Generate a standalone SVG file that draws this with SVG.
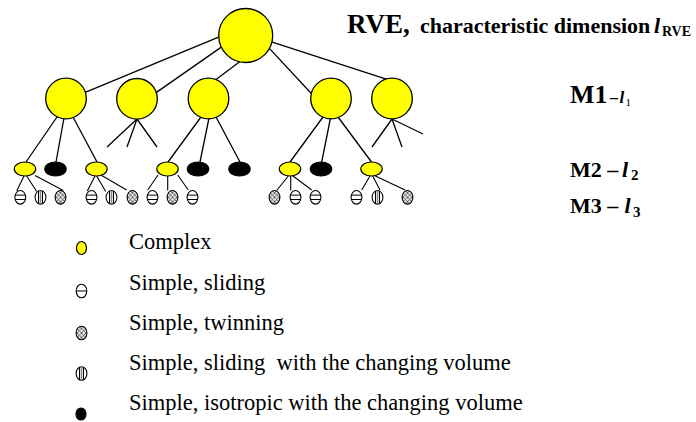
<svg xmlns="http://www.w3.org/2000/svg" width="696" height="422" viewBox="0 0 696 422">
<style>
.ln{stroke:#000;stroke-width:1.3;fill:none}
.sl{stroke:#000;stroke-width:1.1;fill:none}
.big{fill:#ffff00;stroke:#000;stroke-width:1.3}
.cx{fill:#ffff00;stroke:#000;stroke-width:1.2}
.bk{fill:#000;stroke:#000;stroke-width:1.2}
.sm{fill:#fff;stroke:#000;stroke-width:1.1}
.t{font-family:"Liberation Serif","Times New Roman",serif;fill:#000}
.b{font-weight:bold}
.i{font-style:italic}
</style>
<defs>
<pattern id="hatch" patternUnits="userSpaceOnUse" width="4.5" height="4.5">
<rect width="4.5" height="4.5" fill="#e4e4e4"/>
<path d="M0,0L4.5,4.5M4.5,0L0,4.5" stroke="#333" stroke-width="0.7"/>
</pattern>
<g id="s-sl"><ellipse class="sm" rx="5.4" ry="6.8"/><path d="M-5.2,-2.2H5.2M-5.2,2.2H5.2" stroke="#000" stroke-width="1"/></g>
<g id="s-vs"><ellipse class="sm" rx="5.4" ry="6.8"/><path d="M-2,-6.3V6.3M2,-6.3V6.3" stroke="#000" stroke-width="1"/><path d="M0,-6.7V6.7" stroke="#888" stroke-width="1.6"/></g>
<g id="s-tw"><ellipse rx="5.4" ry="6.8" fill="url(#hatch)" stroke="#000" stroke-width="1.1"/></g>
</defs>

<g id="connectors">
<path class="ln" d="M221,36.2L84,92.8M222,46.6L155,93.4M240,61.5L215,80.3M268,46.9L312,94.2M270,41.4L387,79.3"/>
<path class="ln" d="M57,117L26,162M64,118L56,162M73,117L97,162"/>
<path class="ln" d="M137,119L107,147M137,119L127,147M137,119L157,147"/>
<path class="ln" d="M201,117L168,162M209,118L200,162M216,117L240,162"/>
<path class="ln" d="M323,117L290,162M330.5,118L321.7,162M338,117L371.5,162"/>
<path class="ln" d="M392,119L372,147M392,119L402,147M392,119L423,134"/>
<path class="sl" d="M24,176L16.7,191M26.7,176L36.7,191.5M35,175.5L63.3,190.5"/>
<path class="sl" d="M95,176L87.3,191M96.7,176L105.7,191.5M101.7,175.5L126.7,190"/>
<path class="sl" d="M158,175L147.7,190M167.7,176V190.5M177.7,175L188.3,190"/>
<path class="sl" d="M288.3,176L276.7,190.5M290.7,176V190.5M291.7,175L311.7,190"/>
<path class="sl" d="M370,176L361.7,190M372.7,176L380,190M373.3,175L405,190"/>
</g>

<g id="root"><circle class="big" cx="245.7" cy="35.5" r="27"/></g>
<g id="m1-1"><circle class="big" cx="66" cy="98.5" r="20.3"/></g>
<g id="m1-2"><circle class="big" cx="137" cy="98.8" r="20.3"/></g>
<g id="m1-3"><circle class="big" cx="208.5" cy="98.5" r="20.3"/></g>
<g id="m1-4"><circle class="big" cx="331" cy="98.5" r="20.3"/></g>
<g id="m1-5"><circle class="big" cx="392" cy="98.5" r="20.3"/></g>

<g id="m2-1"><ellipse class="cx" cx="25" cy="169" rx="10.7" ry="7"/></g>
<g id="m2-2"><ellipse class="bk" cx="55.5" cy="169" rx="10.7" ry="7"/></g>
<g id="m2-3"><ellipse class="cx" cx="96.5" cy="169" rx="10.7" ry="7"/></g>
<g id="m2-4"><ellipse class="cx" cx="167.5" cy="169" rx="10.7" ry="7"/></g>
<g id="m2-5"><ellipse class="bk" cx="198" cy="169" rx="10.7" ry="7"/></g>
<g id="m2-6"><ellipse class="bk" cx="239.5" cy="169" rx="10.7" ry="7"/></g>
<g id="m2-7"><ellipse class="cx" cx="290" cy="169" rx="10.7" ry="7"/></g>
<g id="m2-8"><ellipse class="bk" cx="321" cy="169" rx="10.7" ry="7"/></g>
<g id="m2-9"><ellipse class="cx" cx="371.5" cy="169" rx="10.7" ry="7"/></g>

<g id="m3-1"><use href="#s-sl" x="20.3" y="197.3"/></g>
<g id="m3-2"><use href="#s-vs" x="40.5" y="197.3"/></g>
<g id="m3-3"><use href="#s-tw" x="60.5" y="197.3"/></g>
<g id="m3-4"><use href="#s-sl" x="91.5" y="197.3"/></g>
<g id="m3-5"><use href="#s-vs" x="111.5" y="197.3"/></g>
<g id="m3-6"><use href="#s-tw" x="132.5" y="197.3"/></g>
<g id="m3-7"><use href="#s-sl" x="152.5" y="197.3"/></g>
<g id="m3-8"><use href="#s-tw" x="172.5" y="197.3"/></g>
<g id="m3-9"><use href="#s-sl" x="192.5" y="197.3"/></g>
<g id="m3-10"><use href="#s-tw" x="274.5" y="197.3"/></g>
<g id="m3-11"><use href="#s-sl" x="295.5" y="197.3"/></g>
<g id="m3-12"><use href="#s-sl" x="315.5" y="197.3"/></g>
<g id="m3-13"><use href="#s-sl" x="356.5" y="197.3"/></g>
<g id="m3-14"><use href="#s-vs" x="377.5" y="197.3"/></g>
<g id="m3-15"><use href="#s-tw" x="407.5" y="197.3"/></g>

<g id="title">
<text class="t b" x="347" y="33" font-size="27">RVE,</text>
<text class="t b" x="420" y="33" font-size="22">characteristic dimension</text>
<text class="t b i" x="654" y="33" font-size="22">l</text>
<text class="t b" x="662" y="35.5" font-size="14">RVE</text>
</g>
<g id="levels">
<text class="t b" x="570" y="103.3" font-size="26">M1</text>
<text class="t b" x="610" y="103.3" font-size="16">–</text>
<text class="t b i" x="619.5" y="103.3" font-size="17">l</text>
<text class="t" x="625.5" y="106" font-size="11">1</text>
<text class="t b" x="570" y="176.7" font-size="22">M2 –</text>
<text class="t b i" x="622" y="176.7" font-size="22">l</text>
<text class="t b" x="631" y="180" font-size="15">2</text>
<text class="t b" x="570" y="213.3" font-size="22">M3 –</text>
<text class="t b i" x="624.5" y="213.3" font-size="22">l</text>
<text class="t b" x="633" y="216.5" font-size="15">3</text>
</g>

<g id="legend">
<g id="lg-complex"><ellipse class="cx" cx="81.5" cy="248" rx="5" ry="6.5"/><text class="t" x="129" y="249.3" font-size="22.5">Complex</text></g>
<g id="lg-sliding"><ellipse class="sm" cx="81.5" cy="291" rx="5.3" ry="6.8"/><path d="M76.3,291H86.7" stroke="#000" stroke-width="1"/><text class="t" x="129" y="290" font-size="22.5">Simple, sliding</text></g>
<g id="lg-twinning"><use href="#s-tw" x="81.5" y="333"/><text class="t" x="129" y="330" font-size="22.5">Simple, twinning</text></g>
<g id="lg-volume"><use href="#s-vs" x="81.5" y="373.5"/><text class="t" x="129" y="370" font-size="22.5" xml:space="preserve">Simple, sliding  with the changing volume</text></g>
<g id="lg-isotropic"><ellipse class="bk" cx="81" cy="414" rx="5" ry="6"/><text class="t" x="129" y="410" font-size="22.5">Simple, isotropic with the changing volume</text></g>
</g>
</svg>
